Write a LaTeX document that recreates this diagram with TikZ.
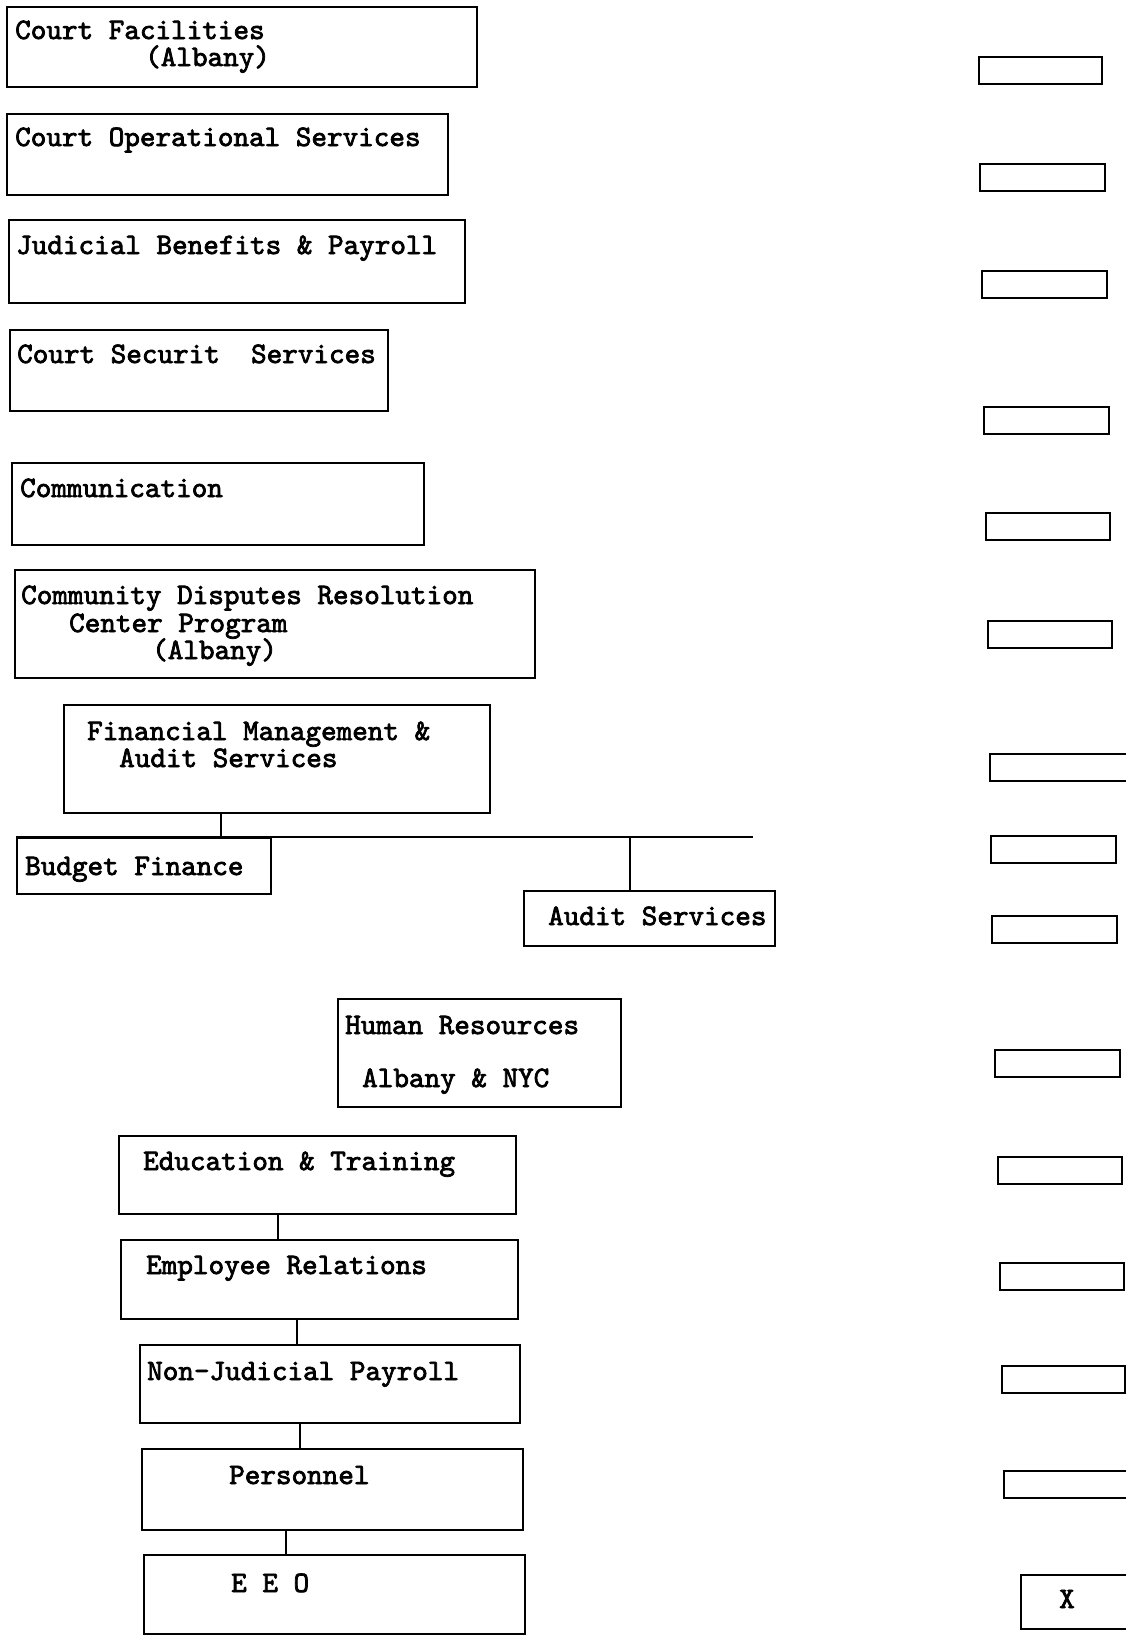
\documentclass[tikz,border=0pt]{standalone}
\usepackage{fontspec}
\setmonofont{lmmono10-regular.otf}[FakeBold=2.5]
\usetikzlibrary{positioning,calc}

\begin{document}
\begin{tikzpicture}[x=1pt,y=-1pt,
		font=\ttfamily\bfseries\fontsize{29.7}{30}\selectfont,
		unit/.style={draw,line width=2pt,rectangle,inner sep=0pt,anchor=north west},
		tag/.style={anchor=base west,inner sep=0pt},
		link/.style={line width=1.6pt}]
		\useasboundingbox (0,0) rectangle (1125,1636);
		% left column of units
		\node[unit,minimum width=470pt,minimum height=80pt] (cf) at (6,6) {};
		\node[unit,minimum width=441pt,minimum height=81pt] (cos) at (6,113) {};
		\node[unit,minimum width=456pt,minimum height=83pt] (jbp) at (8,219) {};
		\node[unit,minimum width=378pt,minimum height=81pt] (css) at (9,329) {};
		\node[unit,minimum width=412pt,minimum height=82pt] (com) at (11,462) {};
		\node[unit,minimum width=520pt,minimum height=108pt] (cdr) at (14,569) {};
		\node[unit,minimum width=426pt,minimum height=108pt] (fm) at (63,704) {};
		\node[unit,minimum width=254pt,minimum height=56pt] (bf) at (16,837) {};
		\node[unit,minimum width=251pt,minimum height=55pt] (au) at (523,890) {};
		\node[unit,minimum width=283pt,minimum height=108pt] (hr) at (337,998) {};
		\node[unit,minimum width=397pt,minimum height=78pt] (ed) at (118,1135) {};
		\node[unit,minimum width=397pt,minimum height=79pt] (er) at (120,1239) {};
		\node[unit,minimum width=380pt,minimum height=78pt] (nj) at (139,1344) {};
		\node[unit,minimum width=381pt,minimum height=81pt] (pe) at (141,1448) {};
		\node[unit,minimum width=381pt,minimum height=79pt] (eeo) at (143,1554) {};
		% texts
		\node[tag] (cf-a) at (15,39) {Court Facilities};
		\node[tag] (cf-b) at (145,66) {(Albany)};
		\node[tag] (cos-a) at (15,146) {Court Operational Services};
		\node[tag] (jbp-a) at (16,254) {Judicial Benefits \& Payroll};
		\node[tag] (css-a) at (17,363) {Court Securit\ \ Services};
		\node[tag] (com-a) at (20,497) {Communication};
		\node[tag] (cdr-a) at (21,604) {Community Disputes Resolution};
		\node[tag] (cdr-b) at (69,632) {Center Program};
		\node[tag] (cdr-c) at (152,659) {(Albany)};
		\node[tag] (fm-a) at (87,740) {Financial Management \&};
		\node[tag] (fm-b) at (119,767) {Audit Services};
		\node[tag] (bf-a) at (25,875) {Budget Finance};
		\node[tag] (au-a) at (548,925) {Audit Services};
		\node[tag] (hr-a) at (345,1034) {Human Resources};
		\node[tag] (hr-b) at (362,1087) {Albany \& NYC};
		\node[tag] (ed-a) at (143,1170) {Education \& Training};
		\node[tag] (er-a) at (146,1274) {Employee Relations};
		\node[tag] (nj-a) at (147,1380) {Non-Judicial Payroll};
		\node[tag] (pe-a) at (229,1484) {Personnel};
		\node[tag] (eeo-a) at (231,1592) {E E O};
		% connectors
		\coordinate (bus-end) at (753,837);
		\draw[link] (bf.north west) -- (bus-end);
		\draw[link] (fm.south -| 221,0) -- (bf.north -| 221,0);
		\draw[link] (bf.north -| 630,0) -- (au.north -| 630,0);
		\draw[link] (ed.south -| 278,0) -- (er.north -| 278,0);
		\draw[link] (er.south -| 297,0) -- (nj.north -| 297,0);
		\draw[link] (nj.south -| 300,0) -- (pe.north -| 300,0);
		\draw[link] (pe.south -| 286,0) -- (eeo.north -| 286,0);
		% right column of small boxes
		\foreach \X/\Y/\W [count=\i] in
		{978/56/123, 979/163/125, 981/270/125, 983/406/125, 985/512/124,
			987/620/124, 989/753/150, 990/835/125, 991/915/125, 994/1049/125,
			997/1156/124, 999/1262/124, 1001/1365/123, 1003/1470/150}
		{\node[unit,minimum width=\W pt,minimum height=27pt] (r-\i) at (\X,\Y) {};}
		\node[unit,minimum width=130pt,minimum height=54pt] (r-x) at (1020,1574) {};
		\node[anchor=base,inner sep=0pt] (r-x-a) at (1067,1608) {X};
\end{tikzpicture}
\end{document}
